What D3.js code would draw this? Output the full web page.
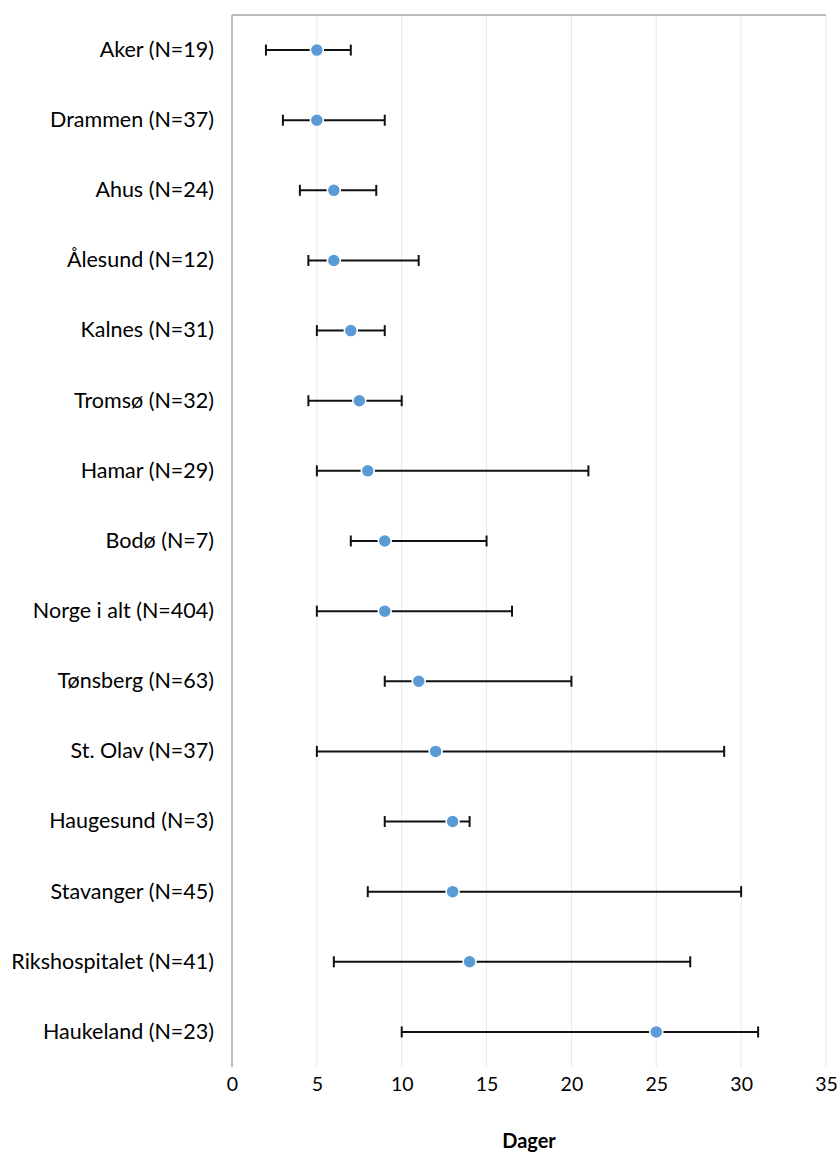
<!DOCTYPE html>
<html>
<head>
<meta charset="utf-8">
<script src="https://cdn.jsdelivr.net/npm/d3@7"></script>
<style>
  html, body { margin: 0; padding: 0; background: #fff; }
  svg { display: block; font-family: Lato, Carlito, Calibri, "Open Sans", sans-serif; }
</style>
</head>
<body>
<svg id="chart" width="838" height="1155"></svg>
<script>
// Hospitals (top to bottom) with number of patients
const hospitals = [
  "Aker (N=19)", "Drammen (N=37)", "Ahus (N=24)", "Ålesund (N=12)",
  "Kalnes (N=31)", "Tromsø (N=32)", "Hamar (N=29)", "Bodø (N=7)",
  "Norge i alt (N=404)", "Tønsberg (N=63)", "St. Olav (N=37)",
  "Haugesund (N=3)", "Stavanger (N=45)", "Rikshospitalet (N=41)",
  "Haukeland (N=23)"
];
// Median days, with lower and upper range
const median = [5, 5, 6, 6, 7, 7.5, 8, 9, 9, 11, 12, 13, 13, 14, 25];
const lower  = [2, 3, 4, 4.5, 5, 4.5, 5, 7, 5, 9, 5, 9, 8, 6, 10];
const upper  = [7, 9, 8.5, 11, 9, 10, 21, 15, 16.5, 20, 29, 14, 30, 27, 31];
const xTicks = [0, 5, 10, 15, 20, 25, 30, 35];
const xTitle = "Dager";

const rows = hospitals.map((name, i) => ({
  name, median: median[i], lower: lower[i], upper: upper[i]
}));

const svg = d3.select("#chart");
const margin = { left: 232, right: 12, top: 15, bottom: 88 };
const W = 838, H = 1155;

const x = d3.scaleLinear().domain([0, 35]).range([margin.left, W - margin.right]);
const y = d3.scaleBand().domain(hospitals).range([margin.top, H - margin.bottom]);

// vertical gridlines
svg.append("g")
  .selectAll("line")
  .data(xTicks.filter(t => t > 0))
  .join("line")
  .attr("x1", d => x(d)).attr("x2", d => x(d))
  .attr("y1", margin.top).attr("y2", H - margin.bottom)
  .attr("stroke", "#e9e9e9").attr("stroke-width", 1);

// top frame line
svg.append("line")
  .attr("x1", x(0)).attr("x2", x(35))
  .attr("y1", margin.top).attr("y2", margin.top)
  .attr("stroke", "#a6a6a6").attr("stroke-width", 1.5);

// left axis line
svg.append("line")
  .attr("x1", x(0)).attr("x2", x(0))
  .attr("y1", margin.top).attr("y2", H - margin.bottom)
  .attr("stroke", "#a6a6a6").attr("stroke-width", 1.5);

// x axis tick labels
const xAxis = d3.axisBottom(x).tickValues(xTicks).tickSize(0).tickPadding(10);
const gx = svg.append("g")
  .attr("transform", `translate(0,${H - margin.bottom})`)
  .call(xAxis);
gx.select(".domain").remove();
gx.selectAll("text")
  .attr("font-family", "Lato, Carlito, Calibri, sans-serif")
  .attr("font-size", 19.5)
  .attr("fill", "#000");

// category labels
const yAxis = d3.axisLeft(y).tickSize(0).tickPadding(18);
const gy = svg.append("g")
  .attr("transform", `translate(${margin.left},0)`)
  .call(yAxis);
gy.select(".domain").remove();
gy.selectAll("text")
  .attr("font-family", "Lato, Carlito, Calibri, sans-serif")
  .attr("font-size", 21.5)
  .attr("fill", "#000");

// range bars
const bars = svg.append("g");
const cy = d => y(d.name) + y.bandwidth() / 2;
bars.selectAll("line.range")
  .data(rows).join("line").attr("class", "range")
  .attr("x1", d => x(d.lower)).attr("x2", d => x(d.upper))
  .attr("y1", cy).attr("y2", cy)
  .attr("stroke", "#111").attr("stroke-width", 2);
["lower", "upper"].forEach(k => {
  bars.selectAll("line.cap-" + k)
    .data(rows).join("line").attr("class", "cap-" + k)
    .attr("x1", d => x(d[k])).attr("x2", d => x(d[k]))
    .attr("y1", d => cy(d) - 5.5).attr("y2", d => cy(d) + 5.5)
    .attr("stroke", "#111").attr("stroke-width", 2);
});

// median markers
svg.append("g")
  .selectAll("circle")
  .data(rows).join("circle")
  .attr("cx", d => x(d.median)).attr("cy", cy)
  .attr("r", 6.5)
  .attr("fill", "#5b9bd5")
  .attr("stroke", "#fff").attr("stroke-width", 1.5);

// axis title
svg.append("text")
  .attr("x", (x(0) + x(35)) / 2)
  .attr("y", 1148)
  .attr("text-anchor", "middle")
  .attr("font-family", "Lato, Carlito, Calibri, sans-serif")
  .attr("font-weight", "bold")
  .attr("font-size", 20)
  .attr("fill", "#000")
  .text(xTitle);
</script>
</body>
</html>
